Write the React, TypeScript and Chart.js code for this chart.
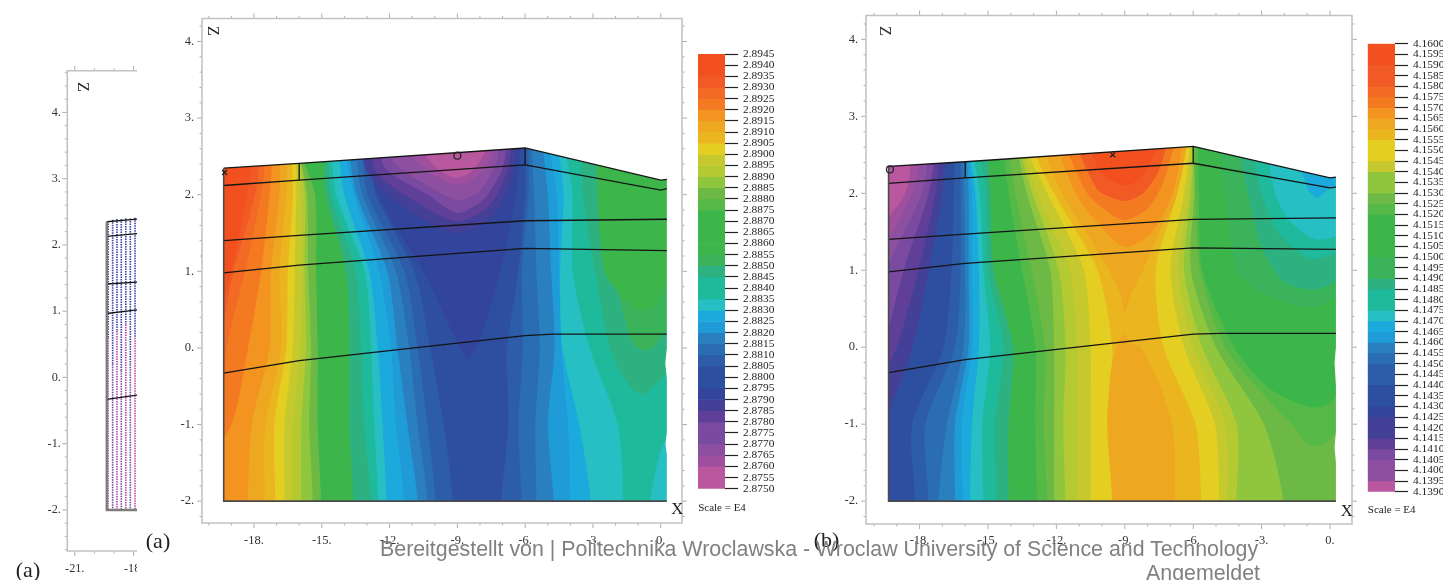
import { useEffect, useRef } from "react";
import { Chart, registerables } from "chart.js";

Chart.register(...registerables);

/* ---------- colour names of the contour scale ---------- */
const red = "#F2511F", red2 = "#F15A24", orn1 = "#F26A24", orn2 = "#F47A22", orn3 = "#F39420";
const amb1 = "#EDA720", amb2 = "#EAB51F", yel = "#E4CE22", oliv = "#C6C92D", lime = "#B4C932";
const lim2 = "#8FC63E", gr1 = "#6CBA45", gr2 = "#55B947", gr3 = "#3CB54A", gr4 = "#3AB35A";
const gr5 = "#2DB180", tl1 = "#1FB99B", tl2 = "#26BFC4", bl1 = "#1CAADD", bl2 = "#1F9BD7";
const bl3 = "#2A7FBF", bl4 = "#2B6DB3", bl5 = "#2D5CA8", bl6 = "#2E4E9F", in1 = "#32449B";
const in2 = "#443F97", pu1 = "#5F3F98", pu2 = "#7A4AA0", pu3 = "#8D50A0", pu4 = "#A04F9F", pk = "#B9589F";

/* ---------- colour bar levels ---------- */
const levelsA = [2.8945, 2.894, 2.8935, 2.893, 2.8925, 2.892, 2.8915, 2.891, 2.8905, 2.89, 2.8895, 2.889, 2.8885, 2.888, 2.8875, 2.887, 2.8865, 2.886, 2.8855, 2.885, 2.8845, 2.884, 2.8835, 2.883, 2.8825, 2.882, 2.8815, 2.881, 2.8805, 2.88, 2.8795, 2.879, 2.8785, 2.878, 2.8775, 2.877, 2.8765, 2.876, 2.8755, 2.875];
const bandColorsA = [red, red, red2, orn1, orn2, orn3, amb1, amb2, yel, oliv, lime, lim2, gr1, gr2, gr3, gr3, gr3, gr3, gr4, gr5, tl1, tl1, tl2, bl1, bl2, bl3, bl4, bl5, bl6, bl6, in1, in2, pu1, pu2, pu2, pu3, pu4, pk, pk];
const levelsB = [4.16, 4.1595, 4.159, 4.1585, 4.158, 4.1575, 4.157, 4.1565, 4.156, 4.1555, 4.155, 4.1545, 4.154, 4.1535, 4.153, 4.1525, 4.152, 4.1515, 4.151, 4.1505, 4.15, 4.1495, 4.149, 4.1485, 4.148, 4.1475, 4.147, 4.1465, 4.146, 4.1455, 4.145, 4.1445, 4.144, 4.1435, 4.143, 4.1425, 4.142, 4.1415, 4.141, 4.1405, 4.14, 4.1395, 4.139];
const bandColorsB = [red, red, red2, red2, orn1, orn2, orn3, amb1, amb2, yel, yel, oliv, lim2, lim2, gr1, gr2, gr3, gr3, gr3, gr3, gr4, gr4, gr5, tl1, tl1, tl2, bl1, bl2, bl3, bl4, bl5, bl5, bl6, bl6, in1, in2, in2, pu1, pu2, pu3, pu3, pk];

/* ---------- axes ---------- */
const zRows = [-2, -1, 0, 1, 2, 2.6];
const xMinorTicks = [-21, -20, -19, -18, -17, -16, -15, -14, -13, -12, -11, -10, -9, -8, -7, -6, -5, -4, -3, -2, -1, 0];
const xMajorTicks = [-21, -18, -15, -12, -9, -6, -3, 0];
const zMinorTicks = [-2.6, -2.4, -2.2, -2, -1.8, -1.6, -1.4, -1.2, -1, -0.8, -0.6, -0.4, -0.2, 0, 0.2, 0.4, 0.6, 0.8, 1, 1.2, 1.4, 1.6, 1.8, 2, 2.2, 2.4, 2.6, 2.8, 3, 3.2, 3.4, 3.6, 3.8, 4, 4.2, 4.4, 4.6];
const zMajorTicks = [-2, -1, 0, 1, 2, 3, 4];

/* ---------- panel (a) contours: X of each front at zRows ---------- */
const aLeftFrontColors = [red2, orn1, orn2, orn3, amb1, amb2, yel, oliv, lime, lim2, gr1, gr3, gr5, tl1, tl2, bl1, bl2, bl3, bl4, bl5, bl6];
const aLeftFrontX = [
  [-21, -21, -20.0, -19.0, -18.3, -18.0],
  [-21, -20.5, -19.6, -18.9, -17.95, -17.7],
  [-21, -19.5, -19.2, -18.4, -17.68, -17.46],
  [-21, -19.0, -18.26, -17.68, -17.31, -17.16],
  [-18.27, -18.1, -17.31, -17.25, -16.87, -16.87],
  [-17.53, -17.5, -16.8, -16.87, -16.57, -16.55],
  [-17.05, -17.1, -16.57, -16.5, -16.28, -16.35],
  [-16.65, -16.65, -16.28, -16.2, -16.13, -16.15],
  [-16.28, -16.28, -15.95, -15.9, -15.91, -16.05],
  [-15.91, -15.9, -15.7, -15.76, -15.75, -16.02],
  [-15.4, -15.55, -15.47, -15.6, -15.65, -16.0],
  [-15.03, -15.18, -15.18, -15.25, -15.3, -15.95],
  [-13.6, -13.78, -13.78, -13.93, -14.8, -14.9],
  [-12.82, -13.12, -13.26, -13.5, -14.6, -14.7],
  [-12.5, -12.68, -12.82, -13.1, -14.37, -14.55],
  [-12.14, -12.31, -12.53, -12.9, -14.0, -14.25],
  [-11.35, -11.72, -11.94, -12.46, -13.56, -13.95],
  [-10.76, -11.21, -11.65, -12.1, -13.45, -13.8],
  [-10.32, -10.76, -11.13, -11.72, -13.2, -13.5],
  [-9.96, -10.32, -10.76, -11.35, -12.97, -13.2],
  [-9.2, -9.6, -10.2, -10.9, -12.6, -12.9],
];
const aDomeColors = [in1, in2, pu1, pu2, pu3, pu4, pk];
const aDomes = [
  [[-13.2, 2.9], [-12.5, 2], [-10.5, 1], [-9.2, 0.2], [-8.5, -0.15], [-7.9, 0.2], [-7.1, 1], [-6.4, 2], [-6.15, 2.9]],
  [[-13.3, 2.9], [-13, 2.3], [-11.2, 1.8], [-9, 1.5], [-7.5, 1.7], [-6.6, 2.2], [-6.3, 2.9]],
  [[-13, 2.9], [-12.6, 2.3], [-10.8, 1.9], [-9, 1.65], [-7.6, 1.85], [-6.8, 2.3], [-6.5, 2.9]],
  [[-12.6, 2.9], [-12.2, 2.35], [-10.3, 2], [-9, 1.76], [-7.8, 1.95], [-7, 2.35], [-6.7, 2.9]],
  [[-12.2, 2.9], [-11.8, 2.42], [-10.2, 2.1], [-9, 1.93], [-8, 2.05], [-7.3, 2.4], [-7, 2.9]],
  [[-11.5, 2.9], [-11, 2.5], [-10, 2.25], [-9, 2.13], [-8.1, 2.25], [-7.5, 2.5], [-7.2, 2.9]],
  [[-11, 2.9], [-10.5, 2.55], [-9.8, 2.32], [-9, 2.22], [-8.3, 2.32], [-7.8, 2.55], [-7.4, 2.9]],
];
const aRightFrontColors = [bl5, bl4, bl3, bl2, bl1, tl2, tl1];
const aRightFrontX = [
  [-7.05, -6.75, -6.8, -6.3, -6.0, -6.0],
  [-6.16, -6.3, -6.1, -6.15, -5.85, -5.85],
  [-5.5, -5.55, -5.35, -5.5, -5.6, -5.7],
  [-4.73, -5.0, -4.7, -4.85, -5.0, -5.2],
  [-4.0, -4.1, -4.4, -4.5, -4.6, -4.9],
  [-3.1, -3.6, -4.35, -4.45, -4.3, -4.5],
  [-1.65, -1.9, -3.15, -3.9, -3.9, -4.2],
];
const aBlobColors = [gr5, gr4, gr3, tl2];
const aBlobs = [
  [[-3.5, 2.9], [-3.45, 2], [-2.9, 1], [-2.25, 0], [-1.5, -0.45], [-0.9, -0.6], [-0.3, -0.5], [0.5, -0.2], [2, 3]],
  [[-3, 2.9], [-2.7, 2], [-2.1, 1], [-1.3, 0.1], [-0.9, -0.03], [-0.3, 0.02], [0.5, 0.4], [2, 3]],
  [[-2.9, 2.9], [-2.8, 2], [-2.5, 1], [-1.8, 0.7], [-1, 0.49], [-0.3, 0.55], [0.5, 1], [2, 3]],
  [[-0.47, -3], [-0.47, -2], [-0.3, -1.7], [0, -1.35], [0.3, -1.2], [2, -1], [2, -3]],
];
const aOutline = [[-19.34, -2], [0.27, -2], [0.27, -1.4], [0.21, -1.25], [0.27, -1.1], [0.27, -0.4], [0.2, -0.2], [0.27, 0], [0.27, 2.2], [0, 2.19], [-6, 2.61], [-16, 2.41], [-19.34, 2.346]];
const aLayers = [
  [[-19.34, 2.346], [-16, 2.41], [-6, 2.61], [0, 2.19], [0.27, 2.2]],
  [[-19.34, 2.12], [-16, 2.19], [-6, 2.39], [0, 2.06], [0.27, 2.08]],
  [[-19.34, 1.4], [-16, 1.47], [-6, 1.66], [0.27, 1.68]],
  [[-19.34, 0.98], [-16, 1.08], [-6, 1.3], [0.27, 1.27]],
  [[-19.34, -0.33], [-16, -0.165], [-6, 0.16], [-4.8, 0.18], [0.27, 0.18]],
  [[-16, 2.41], [-16, 2.19]],
  [[-6, 2.61], [-6, 2.39]],
];
const aCross = [[-19.3, 2.29]];
const aCircle = [[-9, 2.51]];

/* ---------- panel (b) contours ---------- */
const bLeftFrontColors = [pu4, pu3, pu2, pu1, in2, bl6, bl5, bl4, bl3, bl2, bl1, tl2, tl1, gr5, gr3, gr2, gr1, lim2, lime, oliv, yel, amb2];
const bLeftFrontX = [
  [-21, -21, -21, -21, -18.63, -18.33],
  [-21, -21, -21, -20, -18.34, -17.9],
  [-21, -21, -21, -19.5, -17.9, -17.6],
  [-21, -21, -19.6, -18.7, -17.6, -17.3],
  [-21, -20.5, -19, -18.05, -17.3, -17.1],
  [-20, -19.5, -18.3, -17.6, -17, -16.85],
  [-18.2, -18.33, -16.95, -16.6, -16.5, -16.45],
  [-17.6, -17.75, -16.45, -16.2, -16.2, -16.2],
  [-17.17, -16.8, -16.07, -16, -16.05, -16.1],
  [-16.44, -16.45, -15.85, -15.85, -15.85, -15.95],
  [-16.1, -16.15, -15.7, -15.7, -15.7, -15.9],
  [-15.78, -15.7, -15.4, -15.4, -15.55, -15.8],
  [-15.2, -15.25, -14.9, -15.2, -15.35, -15.7],
  [-14.6, -14.7, -14.3, -15, -15.05, -15.4],
  [-14.1, -14.1, -13.9, -14.75, -14.9, -15],
  [-12.85, -12.93, -12.93, -13.5, -14.1, -14.3],
  [-12.4, -12.55, -12.5, -13.1, -13.8, -14.1],
  [-12.1, -12.1, -12.1, -12.27, -13.3, -13.7],
  [-11.6, -11.7, -11.6, -11.9, -13.05, -13.6],
  [-11.1, -11.1, -11.1, -11.4, -12.85, -13.5],
  [-10.5, -10.5, -10.5, -10.8, -12.4, -13.3],
  [-9.55, -9.78, -9.55, -10.2, -12.1, -13],
];
const bDomeColors = [amb1, amb1, orn3, orn2, red2, red];
const bDomes = [
  [[-9.8, -3], [-9.55, -2], [-9.75, -1], [-9.6, -0.3], [-9.1, 0.17], [-8.7, 0.05], [-8.3, 0], [-7.45, -0.5], [-6.93, -1], [-6.8, -1.4], [-6.82, -3]],
  [[-13, 2.9], [-11.75, 2], [-10.5, 1.4], [-9.7, 1], [-9.2, 0.7], [-9, 0.45], [-8.7, 0.7], [-8.2, 1], [-7.5, 1.5], [-6.6, 2], [-6.1, 2.9]],
  [[-12.4, 2.9], [-11.15, 2], [-10.3, 1.65], [-9, 1.3], [-7.8, 1.5], [-6.9, 2], [-6.3, 2.9]],
  [[-12, 2.9], [-10.65, 2], [-9.7, 1.75], [-9, 1.65], [-8, 1.8], [-7.3, 2.15], [-6.6, 2.9]],
  [[-11.5, 2.9], [-10.2, 2.05], [-9, 1.9], [-8.2, 2], [-7.5, 2.3], [-6.9, 2.9]],
  [[-11, 2.9], [-10, 2.25], [-9, 2.1], [-8.3, 2.2], [-7.7, 2.5], [-7.3, 2.9]],
];
const bRightFrontColors = [yel, oliv, lime, lim2, gr1];
const bRightFrontX = [
  [-5.65, -5.9, -7.3, -7.65, -6.7, -6.3],
  [-4.85, -5.05, -6.4, -7, -6.4, -6.15],
  [-4.5, -4.6, -6, -6.65, -6.2, -6.05],
  [-4.1, -4.1, -5.6, -6.4, -6.1, -6],
  [-2.04, -2.9, -5, -6.1, -5.95, -5.98],
];
const bBlobColors = [gr2, gr3, gr4, gr5, tl1, tl2, bl1];
const bBlobs = [
  [[-6, 2.9], [-5.9, 2], [-5.7, 1], [-4.6, 0], [-2.5, -0.75], [-1.67, -1], [-1, -1.25], [-0.45, -1.28], [0, -1.2], [0.5, -1], [2, 3]],
  [[-5.8, 2.9], [-5.75, 2], [-5.6, 1], [-4.2, 0], [-2.8, -0.5], [-1.5, -0.72], [-0.6, -0.78], [0, -0.72], [0.5, -0.5], [2, 3]],
  [[-5, 2.9], [-4.6, 2], [-4.1, 1], [-3.1, 0.72], [-1.6, 0.55], [-0.6, 0.53], [0, 0.6], [0.5, 0.9], [2, 3]],
  [[-4.2, 2.9], [-3.6, 2], [-3, 1.3], [-2, 0.85], [-0.6, 0.75], [0.5, 0.95], [2, 3]],
  [[-3.6, 2.9], [-3, 2], [-2.3, 1.5], [-1.2, 1.2], [-0.5, 1.15], [0.5, 1.3], [2, 3]],
  [[-3, 2.9], [-2.4, 2], [-1.8, 1.65], [-0.6, 1.4], [0.5, 1.5], [2, 3]],
  [[-1.7, 2.9], [-1.2, 2.25], [-0.9, 2.02], [-0.55, 1.94], [-0.1, 2.05], [0.5, 2.1], [2, 2.9]],
];
const bOutline = [[-19.36, -2], [0.26, -2], [0.26, -1.5], [0.2, -1.3], [0.26, -1.1], [0.26, -0.5], [0.2, -0.2], [0.26, 0], [0.26, 2.21], [0, 2.2], [-6, 2.61], [-16, 2.41], [-19.36, 2.35]];
const bLayers = [
  [[-19.36, 2.35], [-16, 2.41], [-6, 2.61], [0, 2.2], [0.26, 2.21]],
  [[-19.36, 2.13], [-16, 2.2], [-6, 2.39], [0, 2.07], [0.26, 2.08]],
  [[-19.36, 1.4], [-16, 1.47], [-6, 1.66], [0.26, 1.68]],
  [[-19.36, 0.98], [-16, 1.09], [-6, 1.29], [0.26, 1.27]],
  [[-19.36, -0.33], [-16, -0.16], [-6, 0.17], [-4.8, 0.18], [0.26, 0.18]],
  [[-16, 2.41], [-16, 2.2]],
  [[-6, 2.61], [-6, 2.39]],
];
const bCross = [[-9.53, 2.5]];
const bCircle = [[-19.3, 2.31]];

/* ---------- left partial panel: mesh columns and layers ---------- */
const meshColumnX = [-19.3, -19.07, -18.85, -18.63, -18.4, -18.17, -17.93];
const meshColumnTop = [2.36, 2.38, 2.39, 2.39, 2.4, 2.4, 2.41];
const meshSplitZ = [0.6, 0.2, 0.7, 0.1, 0.8, 0.2, 0.6];
const cLayers = [
  [[-19.37, 2.35], [-17.8, 2.39]],
  [[-19.37, 2.13], [-17.8, 2.17]],
  [[-19.37, 1.41], [-17.8, 1.44]],
  [[-19.37, 0.965], [-17.8, 1.02]],
  [[-19.37, -0.33], [-17.8, -0.265]],
];
const cEdge = [[-19.37, 2.35], [-19.37, -2], [-17.8, -2]];

/* ---------- builders ---------- */
type XY = number[];
const pts = (a: XY[]) => a.map(([x, y]) => ({ x, y }));
const poly = (a: XY[], color: string, tension = 0.25) => ({
  data: pts(a), showLine: true, fill: "shape", backgroundColor: color, borderWidth: 0, borderColor: color, pointRadius: 0, tension,
});
const front = (xs: number[]): XY[] => [
  [xs[0], -3], ...xs.map((x, i) => [x, zRows[i]]), [xs[xs.length - 1], 3.4], [3, 3.4], [3, -3],
];
const mask = (outline: XY[]): XY[] => [[-26, -6], [-26, 8], [6, 8], [6, -6], [-26, -6], ...outline, outline[0], [-26, -6]];
const stroke = (a: XY[], color = "#141414", width = 1.3, dash?: number[]) => ({
  data: pts(a), showLine: true, fill: false, borderColor: color, borderWidth: width, borderDash: dash, pointRadius: 0, tension: 0,
});
const mark = (a: XY[], style: string) => ({
  data: pts(a), showLine: false, pointStyle: style, pointRadius: 3.5, pointBorderColor: "#222", pointBorderWidth: 1.2, pointBackgroundColor: "rgba(0,0,0,0)",
});
const ordered = (list: any[]) => list.map((d, i) => ({ ...d, order: -i }));

const contourSets = (baseColor: string, leftC: string[], leftX: number[][], domeC: string[], domes: XY[][], rightC: string[], rightX: number[][], blobC: string[], blobs: XY[][], outline: XY[], layers: XY[][], cross: XY[], circle: XY[]) =>
  ordered([
    poly([[-26, -6], [-26, 8], [6, 8], [6, -6]], baseColor, 0),
    ...leftX.map((xs, i) => poly(front(xs), leftC[i])),
    ...domes.map((d, i) => poly(d, domeC[i])),
    ...rightX.map((xs, i) => poly(front(xs), rightC[i])),
    ...blobs.map((d, i) => poly(d, blobC[i])),
    poly(mask(outline), "#ffffff", 0),
    ...layers.map((l) => stroke(l)),
    stroke([outline[outline.length - 1], outline[0], outline[1]], "#4a4a4a", 1.6),
    mark(cross, "crossRot"),
    mark(circle, "circle"),
  ]);

const datasetsA = contourSets(red, aLeftFrontColors, aLeftFrontX, aDomeColors, aDomes, aRightFrontColors, aRightFrontX, aBlobColors, aBlobs, aOutline, aLayers, aCross, aCircle);
const datasetsB = contourSets(pk, bLeftFrontColors, bLeftFrontX, bDomeColors, bDomes, bRightFrontColors, bRightFrontX, bBlobColors, bBlobs, bOutline, bLayers, bCross, bCircle);
const datasetsC = ordered([
  ...meshColumnX.map((x, i) => stroke([[x, meshColumnTop[i]], [x, meshSplitZ[i]]], "#3A3FA5", 1.6, [1.5, 1])),
  ...meshColumnX.map((x, i) => stroke([[x, meshSplitZ[i]], [x, -2]], i % 2 ? "#6A4FA8" : "#C8429E", 1.6, [1.5, 1])),
  ...cLayers.map((l) => stroke(l)),
  stroke(cEdge, "#7d7d7d", 2.4),
]);

/* ---------- frame and ticks plugin ---------- */
const framePlugin = (closedRight: boolean, majorLen: number, minorLen: number) => ({
  id: "frame",
  afterDatasetsDraw(chart: any) {
    const { ctx, chartArea: a, scales } = chart;
    const { x, y } = scales;
    ctx.save();
    ctx.strokeStyle = "#aeaeae";
    ctx.lineWidth = 1;
    ctx.beginPath();
    xMinorTicks.forEach((v) => {
      if (v < x.min || v > x.max) return;
      const px = x.getPixelForValue(v);
      const len = xMajorTicks.includes(v) ? majorLen : minorLen;
      ctx.moveTo(px, a.top); ctx.lineTo(px, a.top - len);
      ctx.moveTo(px, a.bottom); ctx.lineTo(px, a.bottom + len);
    });
    zMinorTicks.forEach((v) => {
      if (v < y.min || v > y.max) return;
      const py = y.getPixelForValue(v);
      const len = zMajorTicks.includes(v) ? majorLen : minorLen;
      ctx.moveTo(a.left, py); ctx.lineTo(a.left - len, py);
      if (closedRight) { ctx.moveTo(a.right, py); ctx.lineTo(a.right + len, py); }
    });
    ctx.stroke();
    ctx.strokeStyle = "#c2c2c2";
    ctx.lineWidth = 1.6;
    ctx.beginPath();
    if (closedRight) {
      ctx.rect(a.left, a.top, a.right - a.left, a.bottom - a.top);
    } else {
      ctx.moveTo(a.right, a.top); ctx.lineTo(a.left, a.top); ctx.lineTo(a.left, a.bottom); ctx.lineTo(a.right, a.bottom);
    }
    ctx.stroke();
    ctx.restore();
  },
});

const serif = '"Liberation Serif"';
const CANVAS_H = 580;

type Panel = { left: number; width: number; l: number; t: number; r: number; b: number; xr: number[]; zr: number[]; sets: any[]; closed: boolean; font: number; xPad: number; zPad: number; clipW?: number };

const panels: Panel[] = [
  { left: 10, width: 220, l: 67.3, t: 70.7, r: 137, b: 551, xr: [-21.38, -17.83], zr: [-2.62, 4.63], sets: datasetsC, closed: false, font: 12.2, xPad: 10, zPad: 6.5, clipW: 127 },
  { left: 160, width: 560, l: 202, t: 18.5, r: 682, b: 523, xr: [-20.3, 0.94], zr: [-2.285, 4.3], sets: datasetsA, closed: true, font: 12.5, xPad: 10, zPad: 8 },
  { left: 825, width: 560, l: 866, t: 12, r: 1352, b: 524, xr: [-20.35, 0.965], zr: [-2.297, 4.31], sets: datasetsB, closed: true, font: 12.5, xPad: 9, zPad: 8 },
];

const bars = [
  { left: 690, width: 100, l: 698, r: 725, t: 54, b: 488.7, levels: levelsA, colors: bandColorsA },
  { left: 1360, width: 100, l: 1367.7, r: 1395, t: 43.7, b: 491.7, levels: levelsB, colors: bandColorsB },
];

const makePanel = (canvas: HTMLCanvasElement, p: Panel) =>
  new Chart(canvas, {
    type: "scatter",
    data: { datasets: p.sets },
    plugins: [framePlugin(p.closed, 5, 2.5)],
    options: {
      responsive: false,
      animation: false,
      events: [],
      layout: { autoPadding: false, padding: { left: 0, top: p.t, right: p.left + p.width - p.r, bottom: 0 } },
      plugins: { legend: { display: false }, tooltip: { enabled: false } },
      scales: {
        x: {
          type: "linear", min: p.xr[0], max: p.xr[1],
          afterFit: (s: any) => { s.height = CANVAS_H - p.b; },
          grid: { display: false, drawTicks: false }, border: { display: false },
          ticks: { stepSize: 3, includeBounds: false, autoSkip: false, maxRotation: 0, padding: p.xPad, color: "#333", font: { family: serif, size: p.font }, callback: (v: any) => `${v}.` },
        },
        y: {
          type: "linear", min: p.zr[0], max: p.zr[1],
          afterFit: (s: any) => { s.width = p.l - p.left; },
          grid: { display: false, drawTicks: false }, border: { display: false },
          ticks: { stepSize: 1, includeBounds: false, autoSkip: false, padding: p.zPad, color: "#333", font: { family: serif, size: p.font }, callback: (v: any) => `${v}.` },
        },
      },
    } as any,
  });

const makeBar = (canvas: HTMLCanvasElement, b: (typeof bars)[number]) =>
  new Chart(canvas, {
    type: "bar",
    data: {
      labels: ["scale"],
      datasets: b.colors.map((c, i) => ({ data: [[b.levels[i + 1], b.levels[i]]], backgroundColor: c, borderWidth: 0, barPercentage: 1, categoryPercentage: 1, grouped: false })),
    },
    options: {
      responsive: false,
      animation: false,
      events: [],
      layout: { autoPadding: false, padding: { left: b.l - b.left, top: b.t, right: 0, bottom: CANVAS_H - b.b } },
      plugins: { legend: { display: false }, tooltip: { enabled: false } },
      scales: {
        x: { display: false },
        y: {
          position: "right",
          min: b.levels[b.levels.length - 1], max: b.levels[0],
          afterFit: (s: any) => { s.width = b.left + b.width - b.r; },
          grid: { drawOnChartArea: false, drawTicks: true, tickLength: 13, tickColor: "#222", tickWidth: 1.2 },
          border: { display: false },
          ticks: { stepSize: 0.0005, autoSkip: false, padding: 5, color: "#222", font: { family: serif, size: 11.4 }, callback: (v: any) => Number(v).toFixed(4) },
        },
      },
    } as any,
  });

/* ---------- free text ---------- */
const notes = [
  { t: "Z", x: 82.7, y: 87, s: 16, r: 90 },
  { t: "Z", x: 213, y: 31, s: 16, r: 90 },
  { t: "Z", x: 884.7, y: 31, s: 16, r: 90 },
  { t: "X", x: 677.3, y: 509.3, s: 16.5 },
  { t: "X", x: 1346.7, y: 511, s: 16.5 },
  { t: "Scale = E4", x: 722, y: 507, s: 11 },
  { t: "Scale = E4", x: 1391.7, y: 509.3, s: 11 },
  { t: "(a)", x: 158, y: 541, s: 22 },
  { t: "(a)", x: 28, y: 570, s: 22 },
  { t: "(b)", x: 826.5, y: 540, s: 22 },
];

export default function App() {
  const panelRefs = useRef<(HTMLCanvasElement | null)[]>([]);
  const barRefs = useRef<(HTMLCanvasElement | null)[]>([]);
  useEffect(() => {
    const charts = [
      ...panels.map((p, i) => makePanel(panelRefs.current[i]!, p)),
      ...bars.map((b, i) => makeBar(barRefs.current[i]!, b)),
    ];
    return () => charts.forEach((c) => c.destroy());
  }, []);
  return (
    <div style={{ position: "absolute", left: 0, top: 0, width: 1443, height: 580, overflow: "hidden", background: "#fff" }}>
      {bars.map((b, i) => (
        <canvas key={i} ref={(el) => { barRefs.current[i] = el; }} width={b.width} height={CANVAS_H} style={{ position: "absolute", left: b.left, top: 0, width: b.width, height: CANVAS_H }} />
      ))}
      {panels.map((p, i) => (
        <div key={i} style={{ position: "absolute", left: p.left, top: 0, width: p.clipW ?? p.width, height: CANVAS_H, overflow: "hidden" }}>
          <canvas ref={(el) => { panelRefs.current[i] = el; }} width={p.width} height={CANVAS_H} style={{ display: "block", width: p.width, height: CANVAS_H }} />
        </div>
      ))}
      {notes.map((n, i) => (
        <div key={i} style={{ position: "absolute", left: n.x, top: n.y, transform: `translate(-50%,-50%) rotate(${n.r ?? 0}deg)`, fontFamily: serif, fontSize: n.s, color: "#222", whiteSpace: "nowrap", lineHeight: 1 }}>{n.t}</div>
      ))}
      <div style={{ position: "absolute", left: 380, top: 537, fontFamily: '"Liberation Sans"', fontSize: 21.37, lineHeight: "24px", color: "#808080", whiteSpace: "nowrap" }}>
        Bereitgestellt von | Politechnika Wroclawska - Wroclaw University of Science and Technology
      </div>
      <div style={{ position: "absolute", left: 1146, top: 561, fontFamily: '"Liberation Sans"', fontSize: 21.37, lineHeight: "24px", color: "#808080", whiteSpace: "nowrap" }}>Angemeldet</div>
    </div>
  );
}
